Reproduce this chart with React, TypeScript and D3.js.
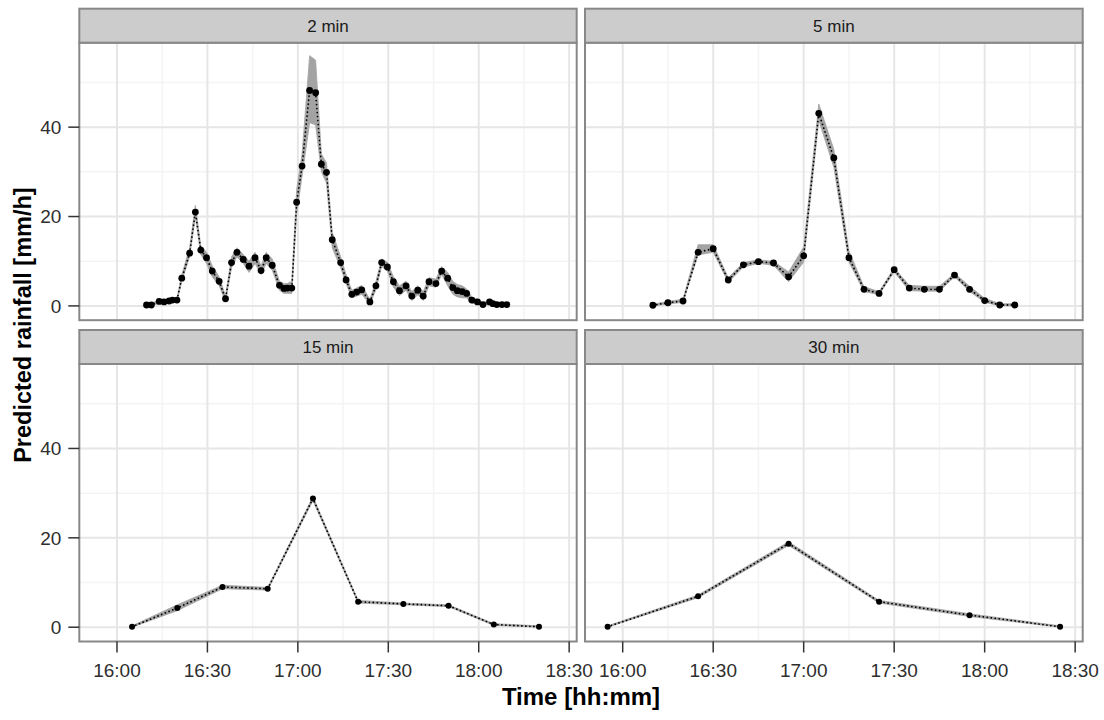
import React from "react";
import * as d3 from "d3";

// ---------- data (minutes after 16:00, rainfall mm/h) ----------
const panelTitles = ["2 min", "5 min", "15 min", "30 min"];

const min2 = [9.8, 11.4, 14.0, 15.6, 17.3, 18.4, 19.9, 21.5, 24.1, 26.0, 27.8, 29.7, 31.6, 33.9, 36.0, 38.0, 39.8, 41.9, 43.8, 45.8, 47.8, 49.5, 51.5, 53.9, 55.4, 56.5, 58.0, 59.6, 61.4, 63.9, 65.9, 67.8, 69.5, 71.4, 74.2, 76.0, 77.9, 79.5, 81.2, 83.9, 85.9, 87.8, 89.7, 91.7, 93.7, 95.9, 97.8, 99.8, 101.6, 103.5, 105.8, 107.7, 109.7, 111.4, 112.9, 114.5, 116.0, 117.7, 119.6, 121.4, 123.6, 124.7, 126.0, 127.7, 129.3];
const val2 = [0.2, 0.2, 1.0, 0.9, 1.1, 1.3, 1.3, 6.2, 11.8, 21.0, 12.5, 10.8, 7.8, 5.5, 1.6, 9.7, 12.0, 10.4, 8.9, 10.8, 7.9, 10.8, 9.1, 4.6, 3.9, 4.0, 4.0, 23.2, 31.3, 48.2, 47.7, 31.7, 29.9, 14.8, 9.7, 5.8, 2.6, 3.1, 3.6, 0.9, 4.5, 9.7, 8.7, 5.4, 3.4, 4.5, 2.2, 3.5, 2.2, 5.4, 5.0, 7.8, 6.2, 4.1, 3.4, 3.2, 2.8, 1.3, 0.9, 0.3, 0.9, 0.5, 0.3, 0.3, 0.3];
const lo2 = [0, 0, 0.6, 0.5, 0.7, 0.9, 0.9, 5.5, 11.0, 20.0, 11.5, 9.5, 6.5, 4.5, 1.0, 8.5, 11.0, 9.5, 7.5, 9.5, 7.0, 9.5, 8.0, 3.5, 2.8, 2.8, 2.8, 20.5, 29.0, 41.0, 40.5, 30.0, 27.5, 13.0, 8.5, 5.0, 1.8, 2.2, 2.6, 0.4, 3.6, 8.8, 7.8, 4.2, 2.3, 3.5, 1.2, 2.5, 1.2, 4.5, 4.2, 7.0, 4.5, 2.6, 2.0, 1.8, 1.8, 0.6, 0.4, 0, 0.4, 0.1, 0, 0, 0];
const hi2 = [0.6, 0.6, 1.4, 1.3, 1.5, 1.7, 1.7, 7.0, 13.0, 22.5, 13.5, 12.0, 9.0, 6.5, 2.2, 11.0, 13.0, 11.5, 10.0, 12.0, 9.0, 12.0, 10.5, 5.5, 5.0, 5.0, 5.5, 26.0, 34.0, 56.0, 55.0, 34.0, 32.0, 16.5, 11.0, 7.0, 3.5, 4.0, 4.6, 1.5, 5.5, 10.5, 9.8, 6.5, 4.5, 5.5, 3.2, 4.5, 3.2, 6.3, 6.0, 8.8, 7.5, 5.5, 4.8, 4.5, 3.8, 2.0, 1.5, 0.7, 1.3, 0.9, 0.6, 0.6, 0.6];

const min5 = [10, 15, 20, 25, 30, 35, 40, 45, 50, 55, 60, 65, 70, 75, 80, 85, 90, 95, 100, 105, 110, 115, 120, 125, 130];
const val5 = [0.15, 0.7, 1.1, 12.0, 12.8, 5.8, 9.2, 9.9, 9.6, 6.5, 11.2, 43.1, 33.1, 10.8, 3.7, 2.8, 8.1, 4.0, 3.7, 3.7, 6.9, 3.7, 1.2, 0.2, 0.2];
const lo5 = [0, 0.4, 0.8, 11.4, 12.0, 5.3, 8.7, 9.5, 9.1, 5.4, 9.8, 41.5, 31.0, 9.8, 3.2, 2.5, 7.6, 3.4, 3.3, 3.3, 6.5, 3.2, 0.8, 0, 0];
const hi5 = [0.4, 1.0, 1.5, 13.7, 13.7, 6.3, 9.7, 10.3, 10.0, 7.6, 13.2, 45.2, 35.0, 12.3, 4.3, 3.2, 8.5, 4.6, 4.4, 4.4, 7.3, 4.4, 1.7, 0.5, 0.5];

const min15 = [5, 20, 35, 50, 65, 80, 95, 110, 125, 140];
const val15 = [0.1, 4.3, 9.0, 8.6, 28.8, 5.7, 5.2, 4.8, 0.6, 0.1];
const lo15 = [0, 3.7, 8.6, 8.3, 28.3, 5.4, 5.0, 4.6, 0.4, 0];
const hi15 = [0.3, 5.0, 9.4, 8.9, 29.2, 6.0, 5.4, 5.0, 0.8, 0.3];

const min30 = [-5, 25, 55, 85, 115, 145];
const val30 = [0.1, 6.9, 18.7, 5.7, 2.7, 0.1];
const lo30 = [0, 6.6, 18.3, 5.4, 2.4, 0];
const hi30 = [0.3, 7.2, 19.1, 6.0, 3.0, 0.3];

const yTicks = [0, 20, 40];
const xLabel = "Time [hh:mm]";
const yLabel = "Predicted rainfall [mm/h]";

// ---------- helpers ----------
const T0 = new Date(2013, 5, 1, 16, 0, 0).getTime();
const toDate = (m: number) => new Date(T0 + m * 60000);

type Row = { t: Date; v: number; lo: number; hi: number };
const build = (m: number[], v: number[], lo: number[], hi: number[]): Row[] =>
  m.map((mm, i) => ({ t: toDate(mm), v: v[i], lo: lo[i], hi: hi[i] }));

const panelData: Row[][] = [
  build(min2, val2, lo2, hi2),
  build(min5, val5, lo5, hi5),
  build(min15, val15, lo15, hi15),
  build(min30, val30, lo30, hi30),
];

// ---------- layout ----------
const W = 1104, H = 720;
const colX = [[79.3, 576.7], [585, 1082.7]];
const rowY = [
  { s0: 8.7, s1: 42.7, p1: 320.2 },
  { s0: 330, s1: 364, p1: 641.5 },
];
const FONT = "'Liberation Sans', Arial, Helvetica, sans-serif";

function Panel({ idx }: { idx: number }) {
  const col = idx % 2, row = Math.floor(idx / 2);
  const [x0, x1] = colX[col];
  const { s0, s1, p1 } = rowY[row];
  const x = d3.scaleTime().domain([toDate(-12.5), toDate(152.5)]).range([x0, x1]);
  const y = d3.scaleLinear().domain([-3.2, 58.9]).range([p1, s1]);
  const data = panelData[idx];
  const majorX = x.ticks(d3.timeMinute.every(30) as any);
  const minorX = x.ticks(d3.timeMinute.every(15) as any).filter((d) => d.getMinutes() % 30 !== 0);
  const majorY = y.ticks(3).filter((d) => yTicks.includes(d));
  const minorY = [10, 30, 50];
  const area = d3.area<Row>().x((d) => x(d.t)).y0((d) => y(d.lo)).y1((d) => y(d.hi));
  const line = d3.line<Row>().x((d) => x(d.t)).y((d) => y(d.v));
  const r = row === 0 ? 3.4 : 3.0;
  const fmt = d3.timeFormat("%H:%M");
  return (
    <g>
      <rect x={x0} y={s1} width={x1 - x0} height={p1 - s1} fill="#ffffff" />
      {minorX.map((d, i) => (
        <line key={"mx" + i} x1={x(d)} x2={x(d)} y1={s1} y2={p1} stroke="#f4f4f4" strokeWidth={1.5} />
      ))}
      {minorY.map((d, i) => (
        <line key={"my" + i} x1={x0} x2={x1} y1={y(d)} y2={y(d)} stroke="#f4f4f4" strokeWidth={1.5} />
      ))}
      {majorX.map((d, i) => (
        <line key={"Mx" + i} x1={x(d)} x2={x(d)} y1={s1} y2={p1} stroke="#e6e6e6" strokeWidth={2} />
      ))}
      {majorY.map((d, i) => (
        <line key={"My" + i} x1={x0} x2={x1} y1={y(d)} y2={y(d)} stroke="#e6e6e6" strokeWidth={2} />
      ))}
      <path d={area(data) || ""} fill="#a3a3a3" stroke="#a3a3a3" strokeWidth={0.8} />
      <path d={line(data) || ""} fill="none" stroke="#000" strokeWidth={1.8} strokeDasharray="0.01 4" strokeLinecap="round" />
      {data.map((d, i) => (
        <circle key={"p" + i} cx={x(d.t)} cy={y(d.v)} r={r} fill="#000" />
      ))}
      <rect x={x0} y={s1} width={x1 - x0} height={p1 - s1} fill="none" stroke="#888" strokeWidth={2} />
      {/* strip */}
      <rect x={x0} y={s0} width={x1 - x0} height={s1 - s0} fill="#cccccc" stroke="#888" strokeWidth={2} />
      <text x={(x0 + x1) / 2} y={(s0 + s1) / 2} dy="0.36em" textAnchor="middle" fontFamily={FONT} fontSize={17} fill="#1a1a1a">
        {panelTitles[idx]}
      </text>
      {col === 0 &&
        majorY.map((d, i) => (
          <g key={"yt" + i}>
            <line x1={x0 - 11} x2={x0} y1={y(d)} y2={y(d)} stroke="#333" strokeWidth={1.5} />
            <text x={x0 - 18} y={y(d)} dy="0.36em" textAnchor="end" fontFamily={FONT} fontSize={19} fill="#2e2e2e">
              {d}
            </text>
          </g>
        ))}
      {row === 1 &&
        majorX.map((d, i) => (
          <g key={"xt" + i}>
            <line x1={x(d)} x2={x(d)} y1={p1} y2={p1 + 11} stroke="#333" strokeWidth={1.5} />
            <text x={x(d)} y={677} textAnchor="middle" fontFamily={FONT} fontSize={19} fill="#2e2e2e">
              {fmt(d)}
            </text>
          </g>
        ))}
    </g>
  );
}

export default function App() {
  return (
    <div style={{ position: "fixed", left: 0, top: 0, width: W, height: H, background: "#fff" }}>
      <svg width={W} height={H} style={{ display: "block" }}>
        <rect width={W} height={H} fill="#fff" />
        {[0, 1, 2, 3].map((i) => (
          <Panel key={i} idx={i} />
        ))}
        <text x={(colX[0][0] + colX[1][1]) / 2} y={705} textAnchor="middle" fontFamily={FONT} fontSize={24} fontWeight="bold" fill="#000">
          {xLabel}
        </text>
        <text transform={`translate(31, ${(rowY[0].s0 + rowY[1].p1) / 2}) rotate(-90)`} textAnchor="middle" fontFamily={FONT} fontSize={23.5} fontWeight="bold" fill="#000">
          {yLabel}
        </text>
      </svg>
    </div>
  );
}
